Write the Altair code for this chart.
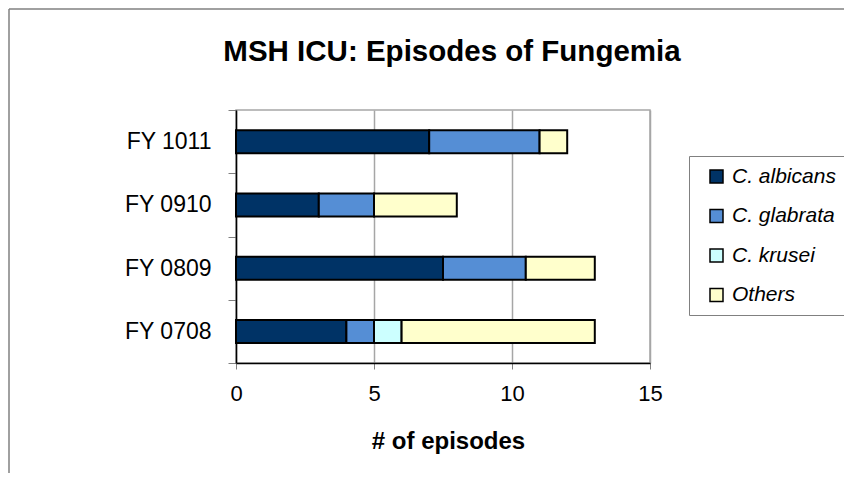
import altair as alt
import pandas as pd

# ---- data ----
years = ["FY 0708", "FY 0809", "FY 0910", "FY 1011"]
species = ["C. albicans", "C. glabrata", "C. krusei", "Others"]
albicans = [4, 7.5, 3, 7]
glabrata = [1, 3, 2, 4]
krusei = [1, 0, 0, 0]
others = [7, 2.5, 3, 1]
colors = ["#003366", "#558ED5", "#CCFFFF", "#FFFFCC"]
x_ticks = [0, 5, 10, 15]

series = [albicans, glabrata, krusei, others]
rows = []
for i, sp in enumerate(species):
    for yr, v in zip(years, series[i]):
        if v > 0:
            rows.append({"year": yr, "species": sp, "episodes": v, "order": i})
df = pd.DataFrame(rows)

FONT = "Liberation Sans"
GRID = "#A6A6A6"

bars = alt.Chart(df).mark_bar(size=23, stroke="black", strokeWidth=2).encode(
    x=alt.X(
        "episodes:Q",
        stack="zero",
        scale=alt.Scale(domain=[0, 15], nice=False),
        axis=alt.Axis(
            values=x_ticks,
            title="# of episodes",
            grid=True,
            gridColor=GRID,
            gridWidth=1.5,
            domainColor="black",
            domainWidth=1.5,
            tickColor="#808080",
            tickSize=6,
            labelFont=FONT,
            labelFontSize=22,
            labelColor="black",
            labelPadding=14,
            labelFlush=False,
            titleFont=FONT,
            titleFontSize=24,
            titleFontWeight="bold",
            titleColor="black",
            titleX=212,
            titleY=85,
            titleBaseline="alphabetic",
            titleAlign="center",
        ),
    ),
    y=alt.Y(
        "year:N",
        sort=years[::-1],
        scale=alt.Scale(paddingInner=0, paddingOuter=0),
        axis=alt.Axis(
            title=None,
            tickBand="extent",
            tickSize=8,
            tickColor="#808080",
            domainColor="black",
            domainWidth=1.5,
            grid=False,
            labelFont=FONT,
            labelFontSize=23,
            labelColor="black",
            labelPadding=17,
        ),
    ),
    color=alt.Color(
        "species:N",
        sort=species,
        scale=alt.Scale(domain=species, range=colors),
        legend=alt.Legend(
            title=None,
            orient="none",
            legendX=453,
            legendY=46,
            padding=10,
            symbolOffset=7,
            strokeColor="#808080",
            fillColor="white",
            symbolType="square",
            symbolSize=169,
            symbolStrokeColor="black",
            symbolStrokeWidth=1.5,
            symbolOpacity=1,
            labelFont=FONT,
            labelFontSize=21,
            labelFontStyle="italic",
            labelColor="black",
            labelOffset=5,
            rowPadding=17.5,
        ),
    ),
    order=alt.Order("order:Q", sort="ascending"),
)

frame_df = pd.DataFrame({"k": [0]})
top_line = alt.Chart(frame_df).mark_rule(color="#808080", strokeWidth=1.5).encode(
    x=alt.value(-227), x2=alt.value(700), y=alt.value(-101)
)
left_line = alt.Chart(frame_df).mark_rule(color="#808080", strokeWidth=1.5).encode(
    x=alt.value(-227), y=alt.value(-101), y2=alt.value(500)
)

chart = alt.layer(top_line, left_line, bars).properties(
    width=414,
    height=253,
    autosize=alt.AutoSizeParams(type="none"),
    padding={"left": 228, "top": 102, "right": 194, "bottom": 110},
    title=alt.TitleParams(
        "MSH ICU: Episodes of Fungemia",
        font=FONT,
        fontSize=29.5,
        fontWeight="bold",
        color="black",
        anchor="middle",
        frame="group",
        baseline="alphabetic",
        dx=9,
        dy=82,
        offset=0,
    ),
).configure_view(stroke=GRID, strokeWidth=1.5)

chart.save("out.html", embed_options={"renderer": "svg", "actions": False})
